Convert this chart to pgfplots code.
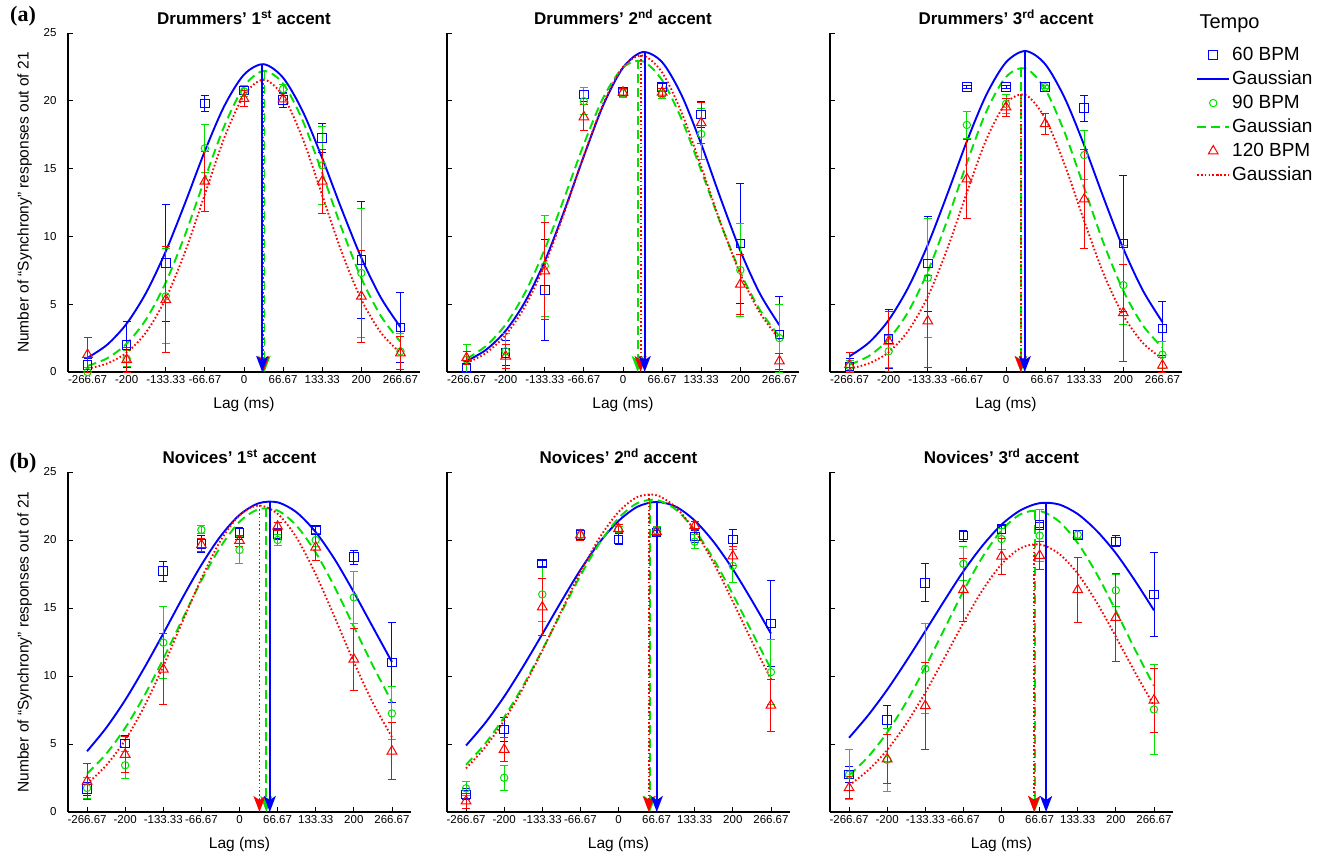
\documentclass[border=0pt]{standalone}
\usepackage{fontspec}
\setmainfont{Liberation Sans}
\newfontfamily\serifbf{Liberation Serif}
\usepackage{pgfplots}
\pgfplotsset{compat=1.18}
\usetikzlibrary{arrows.meta}
\definecolor{mblue}{RGB}{0,0,255}
\definecolor{mgreen}{RGB}{0,225,0}
\definecolor{mred}{RGB}{255,0,0}
\pgfplotsset{
  panel/.style={
    scale only axis, xmin=-300, xmax=300, ymin=0, ymax=25,
    axis x line=bottom, axis y line=left,
    axis line style={-, line width=1.5pt, black},
    tick align=inside, major tick length=5pt,
    tick style={black, line width=0.8pt},
    xtick={-266.67,-200,-133.33,-66.67,0,66.67,133.33,200,266.67},
    xticklabels={-266.67,-200,-133.33,-66.67,0,66.67,133.33,200,266.67},
    ytick={0,5,10,15,20,25}, yticklabels={},
    ticklabel style={font=\fontsize{11.5}{12}\selectfont},
    yticklabel style={xshift=-8pt},
    xlabel={Lag (ms)}, xlabel shift=7pt,
    label style={font=\fontsize{15.5}{16}\selectfont},
    title style={font=\fontsize{17}{18}\selectfont\bfseries, yshift=-1pt},
    clip=false,
    legend image code/.code={\draw[mark repeat=2,mark phase=2] plot coordinates {(0pt,0pt) (16pt,0pt) (32pt,0pt)};},
  },
  top/.style={panel, width=352pt, height=339pt},
  bot/.style={panel, width=343pt, height=340pt},
  withy/.style={yticklabels={0,5,10,15,20,25}, ylabel={Number of “Synchrony” responses out of 21}, ylabel shift=5pt},
  mk/.style={only marks,
    error bars/.cd, y dir=both, y explicit,
    error bar style={line width=0.9pt, solid, #1},
    error mark options={rotate=90, mark size=4pt, line width=0.9pt, solid, #1}},
  sb/.style={mblue, mark=square, mark size=4.3pt, mark options={solid, line width=1pt, draw=mblue, fill=none}, mk=mblue},
  sg/.style={mgreen, mark=o, mark size=3.7pt, mark options={solid, line width=1pt, draw=mgreen, fill=none}, mk=mgreen},
  sr/.style={mred, mark=triangle, mark size=5.6pt, mark options={solid, line width=1pt, draw=mred, fill=none}, mk=mred},
  gb/.style={mblue, line width=1.9pt, smooth, no markers, solid},
  gg/.style={mgreen, line width=1.9pt, smooth, no markers, dash pattern=on 9pt off 5pt},
  gr/.style={mred, line width=1.9pt, smooth, no markers, dash pattern=on 1.6pt off 2.2pt},
  ab/.style={mblue, line width=1.9pt, solid, -{Stealth[length=16pt,width=12pt,inset=4pt]}, forget plot},
  ag/.style={mgreen, line width=1.9pt, dash pattern=on 9pt off 5pt, -{Stealth[length=16pt,width=12pt,inset=4pt]}, forget plot},
  ar/.style={mred, line width=1.9pt, dash pattern=on 1.6pt off 2.2pt, -{Stealth[length=16pt,width=12pt,inset=4pt]}, forget plot},
}
\begin{document}
\begin{tikzpicture}
\path[use as bounding box] (0pt,0pt) rectangle (1322pt,-855pt);
\node[font=\serifbf\bfseries\fontsize{22}{22}\selectfont] at (23pt,-16pt) {(a)};
\node[font=\serifbf\bfseries\fontsize{22}{22}\selectfont] at (23pt,-463pt) {(b)};
\node[anchor=west, font=\fontsize{20}{20}\selectfont] at (1196pt,-24pt) {Tempo};

% ---------- Panel 1 ----------
\begin{axis}[top, withy, at={(68pt,-372pt)}, anchor=south west, title={Drummers’ 1\textsuperscript{st} accent}]
\addplot[sb] coordinates {(-266.67,0.5)+-(0,0.5) (-200,2.0)+-(0,1.7) (-133.33,8.04)+-(0,4.3) (-66.67,19.8)+-(0,0.6) (0,20.77)+-(0,0.3) (66.67,20.08)+-(0,0.55) (133.33,17.26)+-(0,1.05) (200,8.28)+-(0,4.3) (266.67,3.29)+-(0,2.6)};
\addplot[gb] coordinates {(-266.67,1.05) (-233.33,2.01) (-200,3.57) (-166.67,5.86) (-133.33,8.90) (-100,12.51) (-66.67,16.30) (-33.33,19.64) (0,21.93) (33.33,22.70) (66.67,21.70) (100,19.23) (133.33,15.77) (166.67,11.98) (200,8.42) (233.33,5.48) (266.67,3.31)};
\addplot[sg] coordinates {(-266.67,0.0)+=(0,0.3)-=(0,0) (-200,0.98)+-(0,0.6) (-133.33,5.58)+-(0,3.5) (-66.67,16.5)+-(0,1.75) (0,20.7)+-(0,0.4) (66.67,20.87)+-(0,0.35) (133.33,15.24)+-(0,2.9) (200,7.3)+-(0,4.75) (266.67,1.52)+-(0,1.3)};
\addplot[gg] coordinates {(-266.67,0.45) (-233.33,1.01) (-200,2.09) (-166.67,3.90) (-133.33,6.60) (-100,10.17) (-66.67,14.25) (-33.33,18.16) (0,21.05) (33.33,22.20) (66.67,21.27) (100,18.54) (133.33,14.67) (166.67,10.57) (200,6.92) (233.33,4.13) (266.67,2.23)};
\addplot[sr] coordinates {(-266.67,1.28)+=(0,1.3)-=(0,1.28) (-200,0.9)+-(0,0.9) (-133.33,5.33)+-(0,3.9) (-66.67,14.06)+-(0,2.2) (0,20.16)+-(0,0.6) (66.67,20.13)+-(0,0.4) (133.33,14.06)+-(0,2.35) (200,5.58)+-(0,3.4) (266.67,1.4)+-(0,1.2)};
\addplot[gr] coordinates {(-266.67,0.24) (-233.33,0.63) (-200,1.43) (-166.67,2.94) (-133.33,5.42) (-100,8.91) (-66.67,13.11) (-33.33,17.29) (0,20.40) (33.33,21.56) (66.67,20.35) (100,17.22) (133.33,13.04) (166.67,8.83) (200,5.35) (233.33,2.90) (266.67,1.41)};
\addplot[ag] coordinates {(35,22.2) (35,0)};
\addplot[ar] coordinates {(33,21.56) (33,0)};
\addplot[ab] coordinates {(31,22.7) (31,0)};
\end{axis}

% ---------- Panel 2 ----------
\begin{axis}[top, at={(447pt,-372pt)}, anchor=south west, title={Drummers’ 2\textsuperscript{nd} accent}]
\addplot[sb] coordinates {(-266.67,0.3)+=(0,0.5)-=(0,0.3) (-200,1.4)+-(0,0.95) (-133.33,6.04)+-(0,3.7) (-66.67,20.46)+-(0,0.5) (0,20.69)+-(0,0.3) (66.67,21.0)+-(0,0.3) (133.33,18.98)+-(0,0.95) (200,9.47)+-(0,4.4) (266.67,2.76)+=(0,2.8)-=(0,2.76)};
\addplot[gb] coordinates {(-266.67,0.81) (-233.33,1.64) (-200,3.04) (-166.67,5.20) (-133.33,8.18) (-100,11.90) (-66.67,15.93) (-33.33,19.71) (0,22.44) (33.33,23.59) (66.67,22.85) (100,20.40) (133.33,16.81) (166.67,12.77) (200,8.94) (233.33,5.78) (266.67,3.45)};
\addplot[sg] coordinates {(-266.67,0.91)+=(0,1.1)-=(0,0.91) (-200,1.53)+-(0,1.3) (-133.33,7.82)+-(0,3.7) (-66.67,19.97)+-(0,1.0) (0,20.56)+-(0,0.3) (66.67,20.46)+-(0,0.3) (133.33,17.55)+-(0,1.9) (200,7.52)+-(0,3.4) (266.67,2.5)+-(0,2.5)};
\addplot[gg] coordinates {(-266.67,0.98) (-233.33,1.93) (-200,3.51) (-166.67,5.88) (-133.33,9.05) (-100,12.85) (-66.67,16.81) (-33.33,20.26) (0,22.45) (33.33,22.92) (66.67,21.52) (100,18.63) (133.33,14.85) (166.67,10.92) (200,7.37) (233.33,4.58) (266.67,2.63)};
\addplot[sr] coordinates {(-266.67,1.04)+-(0,0.5) (-200,1.16)+-(0,0.9) (-133.33,7.45)+-(0,3.55) (-66.67,18.8)+-(0,0.95) (0,20.63)+-(0,0.3) (66.67,20.63)+-(0,0.3) (133.33,18.37)+-(0,1.5) (200,6.46)+-(0,2.2) (266.67,0.8)+-(0,0.6)};
\addplot[gr] coordinates {(-266.67,0.66) (-233.33,1.41) (-200,2.74) (-166.67,4.87) (-133.33,7.92) (-100,11.77) (-66.67,15.97) (-33.33,19.82) (0,22.49) (33.33,23.34) (66.67,22.09) (100,19.12) (133.33,15.14) (166.67,10.96) (200,7.23) (233.33,4.37) (266.67,2.41)};
\addplot[ag] coordinates {(25,22.98) (25,0)};
\addplot[ar] coordinates {(30,23.35) (30,0)};
\addplot[ab] coordinates {(37,23.6) (37,0)};
\end{axis}

% ---------- Panel 3 ----------
\begin{axis}[top, at={(830pt,-372pt)}, anchor=south west, title={Drummers’ 3\textsuperscript{rd} accent},
  legend style={at={(1.04,0.965)}, anchor=north west, draw=none, fill=none, inner sep=0pt,
    font=\fontsize{19}{19}\selectfont, row sep=4pt, column sep=1pt,
    nodes={inner sep=1pt, text height=14pt, text depth=4pt}},
  legend cell align=left]
\addplot[sb] coordinates {(-266.67,0.42)+=(0,0.6)-=(0,0.42) (-200,2.44)+-(0,2.2) (-133.33,7.99)+-(0,3.5) (-66.67,21.0)+-(0,0.1) (0,21.0)+-(0,0.1) (66.67,21.0)+-(0,0.1) (133.33,19.45)+-(0,0.95) (200,9.47)+-(0,5.0) (266.67,3.2)+-(0,2.0)};
\addlegendentry{60 BPM}
\addplot[gb] coordinates {(-266.67,1.16) (-233.33,2.18) (-200,3.83) (-166.67,6.23) (-133.33,9.38) (-100,13.12) (-66.67,17.02) (-33.33,20.46) (0,22.84) (33.33,23.67) (66.67,22.71) (100,20.21) (133.33,16.71) (166.67,12.81) (200,9.10) (233.33,6.01) (266.67,3.68)};
\addlegendentry{Gaussian}
\addplot[sg] coordinates {(-266.67,0.42)+-(0,0.4) (-200,1.53)+-(0,1.2) (-133.33,6.95)+-(0,4.4) (-66.67,18.22)+-(0,1.0) (0,19.77)+-(0,0.7) (66.67,21.0)+-(0,0.1) (133.33,16.0)+-(0,1.8) (200,6.41)+-(0,2.9) (266.67,1.28)+-(0,1.0)};
\addlegendentry{90 BPM}
\addplot[gg] coordinates {(-266.67,0.54) (-233.33,1.19) (-200,2.42) (-166.67,4.44) (-133.33,7.41) (-100,11.22) (-66.67,15.42) (-33.33,19.23) (0,21.76) (33.33,22.39) (66.67,20.86) (100,17.66) (133.33,13.58) (166.67,9.46) (200,5.99) (233.33,3.44) (266.67,1.80)};
\addlegendentry{Gaussian}
\addplot[sr] coordinates {(-266.67,0.54)+=(0,0.9)-=(0,0.54) (-200,2.27)+-(0,2.2) (-133.33,3.75)+-(0,3.4) (-66.67,14.23)+-(0,2.9) (0,19.53)+-(0,0.65) (66.67,18.3)+-(0,0.8) (133.33,12.75)+-(0,3.65) (200,4.36)+-(0,3.6) (266.67,0.49)+=(0,0.6)-=(0,0.49)};
\addlegendentry{120 BPM}
\addplot[gr] coordinates {(-266.67,0.25) (-233.33,0.64) (-200,1.46) (-166.67,3.04) (-133.33,5.56) (-100,9.09) (-66.67,13.24) (-33.33,17.17) (0,19.82) (33.33,20.43) (66.67,18.71) (100,15.29) (133.33,11.13) (166.67,7.21) (200,4.17) (233.33,2.14) (266.67,0.98)};
\addlegendentry{Gaussian}
\addplot[ag] coordinates {(26,22.44) (26,0)};
\addplot[ar] coordinates {(25,20.5) (25,0)};
\addplot[ab] coordinates {(32,23.67) (32,0)};
\end{axis}

% ---------- Panel 4 ----------
\begin{axis}[bot, withy, at={(68pt,-812pt)}, anchor=south west, title={Novices’ 1\textsuperscript{st} accent}]
\addplot[sb] coordinates {(-266.67,1.7)+-(0,0.5) (-200,5.04)+-(0,0.6) (-133.33,17.7)+-(0,0.75) (-66.67,19.7)+-(0,0.6) (0,20.5)+-(0,0.45) (66.67,20.45)+-(0,0.4) (133.33,20.75)+-(0,0.25) (200,18.73)+-(0,0.5) (266.67,11.0)+-(0,2.95)};
\addplot[gb] coordinates {(-266.67,4.47) (-233.33,6.18) (-200,8.23) (-166.67,10.59) (-133.33,13.12) (-100,15.72) (-66.67,18.17) (-33.33,20.27) (0,21.84) (33.33,22.70) (66.67,22.77) (100,22.03) (133.33,20.58) (166.67,18.57) (200,16.16) (233.33,13.59) (266.67,11.03)};
\addplot[sg] coordinates {(-266.67,1.77)+-(0,0.8) (-200,3.44)+-(0,1.0) (-133.33,12.46)+-(0,2.65) (-66.67,20.75)+-(0,0.3) (0,19.27)+-(0,1.0) (66.67,20.0)+-(0,0.4) (133.33,20.0)+-(0,0.5) (200,15.78)+-(0,1.9) (266.67,7.25)+-(0,1.95)};
\addplot[gg] coordinates {(-266.67,2.82) (-233.33,4.27) (-200,6.18) (-166.67,8.54) (-133.33,11.26) (-100,14.16) (-66.67,17.02) (-33.33,19.49) (0,21.34) (33.33,22.26) (66.67,22.17) (100,21.04) (133.33,19.08) (166.67,16.52) (200,13.63) (233.33,10.76) (266.67,8.09)};
\addplot[sr] coordinates {(-266.67,2.26)+-(0,1.3) (-200,4.23)+-(0,1.35) (-133.33,10.5)+-(0,2.6) (-66.67,19.64)+-(0,0.5) (0,19.96)+-(0,0.4) (66.67,21.0)+-(0,0.3) (133.33,19.47)+-(0,1.0) (200,11.23)+-(0,2.3) (266.67,4.47)+-(0,2.1)};
\addplot[gr] coordinates {(-266.67,2.07) (-233.33,3.42) (-200,5.29) (-166.67,7.76) (-133.33,10.72) (-100,13.97) (-66.67,17.17) (-33.33,19.94) (0,21.82) (33.33,22.54) (66.67,21.93) (100,20.16) (133.33,17.48) (166.67,14.30) (200,11.03) (233.33,8.03) (266.67,5.51)};
\addplot[ag] coordinates {(47,22.35) (47,0)};
\addplot[ar] coordinates {(35,22.54) (35,0)};
\addplot[ab] coordinates {(53,22.84) (53,0)};
\end{axis}

% ---------- Panel 5 ----------
\begin{axis}[bot, at={(447pt,-812pt)}, anchor=south west, title={Novices’ 2\textsuperscript{nd} accent}]
\addplot[sb] coordinates {(-266.67,1.3)+-(0,0.4) (-200,6.08)+-(0,0.9) (-133.33,18.28)+-(0,0.2) (-66.67,20.37)+-(0,0.3) (0,20.05)+-(0,0.4) (66.67,20.54)+-(0,0.2) (133.33,20.27)+-(0,0.45) (200,20.05)+-(0,0.75) (266.67,13.85)+-(0,3.15)};
\addplot[gb] coordinates {(-266.67,4.89) (-233.33,6.54) (-200,8.49) (-166.67,10.71) (-133.33,13.08) (-100,15.49) (-66.67,17.80) (-33.33,19.82) (0,21.40) (33.33,22.45) (66.67,22.80) (100,22.46) (133.33,21.43) (166.67,19.85) (200,17.85) (233.33,15.55) (266.67,13.12)};
\addplot[sg] coordinates {(-266.67,1.74)+-(0,0.5) (-200,2.52)+-(0,0.9) (-133.33,16.0)+-(0,2.0) (-66.67,20.37)+-(0,0.3) (0,20.78)+-(0,0.2) (66.67,20.7)+-(0,0.3) (133.33,19.88)+-(0,0.5) (200,18.09)+-(0,1.2) (266.67,10.29)+-(0,2.4)};
\addplot[gg] coordinates {(-266.67,3.48) (-233.33,5.02) (-200,6.98) (-166.67,9.30) (-133.33,11.92) (-100,14.68) (-66.67,17.37) (-33.33,19.76) (0,21.60) (33.33,22.72) (66.67,22.94) (100,22.25) (133.33,20.73) (166.67,18.57) (200,16.00) (233.33,13.24) (266.67,10.53)};
\addplot[sr] coordinates {(-266.67,0.8)+-(0,0.55) (-200,4.6)+-(0,0.85) (-133.33,15.07)+-(0,2.1) (-66.67,20.37)+-(0,0.4) (0,20.83)+-(0,0.3) (66.67,20.6)+-(0,0.3) (133.33,21.05)+-(0,0.3) (200,18.82)+-(0,0.7) (266.67,7.84)+-(0,1.9)};
\addplot[gr] coordinates {(-266.67,3.21) (-233.33,4.76) (-200,6.73) (-166.67,9.13) (-133.33,11.87) (-100,14.78) (-66.67,17.63) (-33.33,20.15) (0,22.06) (33.33,23.17) (66.67,23.29) (100,22.41) (133.33,20.68) (166.67,18.29) (200,15.48) (233.33,12.56) (266.67,9.77)};
\addplot[ag] coordinates {(55,22.9) (55,0)};
\addplot[ar] coordinates {(53,23.36) (53,0)};
\addplot[ab] coordinates {(67,22.8) (67,0)};
\end{axis}

% ---------- Panel 6 ----------
\begin{axis}[bot, at={(830pt,-812pt)}, anchor=south west, title={Novices’ 3\textsuperscript{rd} accent}]
\addplot[sb] coordinates {(-266.67,2.75)+-(0,0.6) (-200,6.76)+-(0,1.05) (-133.33,16.86)+-(0,1.4) (-66.67,20.32)+-(0,0.4) (0,20.8)+-(0,0.3) (66.67,21.12)+-(0,0.2) (133.33,20.39)+-(0,0.3) (200,19.9)+-(0,0.4) (266.67,16.0)+-(0,3.1)};
\addplot[gb] coordinates {(-266.67,5.46) (-233.33,7.11) (-200,8.99) (-166.67,11.09) (-133.33,13.30) (-100,15.54) (-66.67,17.70) (-33.33,19.58) (0,21.13) (33.33,22.19) (66.67,22.71) (100,22.62) (133.33,21.91) (166.67,20.67) (200,19.03) (233.33,17.02) (266.67,14.83)};
\addplot[sg] coordinates {(-266.67,2.75)+-(0,1.85) (-200,3.84)+-(0,2.3) (-133.33,10.54)+-(0,3.3) (-66.67,18.25)+-(0,1.25) (0,20.07)+-(0,0.8) (66.67,20.32)+-(0,1.9) (133.33,20.39)+-(0,0.3) (200,16.3)+-(0,1.2) (266.67,7.54)+-(0,3.3)};
\addplot[gg] coordinates {(-266.67,2.70) (-233.33,4.06) (-200,5.85) (-166.67,8.07) (-133.33,10.66) (-100,13.45) (-66.67,16.24) (-33.33,18.75) (0,20.71) (33.33,21.90) (66.67,22.14) (100,21.39) (133.33,19.78) (166.67,17.50) (200,14.80) (233.33,11.97) (266.67,9.27)};
\addplot[sr] coordinates {(-266.67,1.78)+-(0,0.8) (-200,3.9)+-(0,1.8) (-133.33,7.81)+-(0,3.2) (-66.67,16.33)+-(0,2.35) (0,18.8)+-(0,1.3) (66.67,18.86)+-(0,1.05) (133.33,16.33)+-(0,2.4) (200,14.3)+-(0,3.25) (266.67,8.22)+-(0,2.35)};
\addplot[gr] coordinates {(-266.67,1.96) (-233.33,3.07) (-200,4.56) (-166.67,6.49) (-133.33,8.78) (-100,11.32) (-66.67,13.92) (-33.33,16.31) (0,18.22) (33.33,19.40) (66.67,19.68) (100,19.01) (133.33,17.53) (166.67,15.40) (200,12.89) (233.33,10.29) (266.67,7.82)};
\addplot[ag] coordinates {(58,22.17) (58,0)};
\addplot[ar] coordinates {(57,19.7) (57,0)};
\addplot[ab] coordinates {(78,22.75) (78,0)};
\end{axis}
\end{tikzpicture}
\end{document}
